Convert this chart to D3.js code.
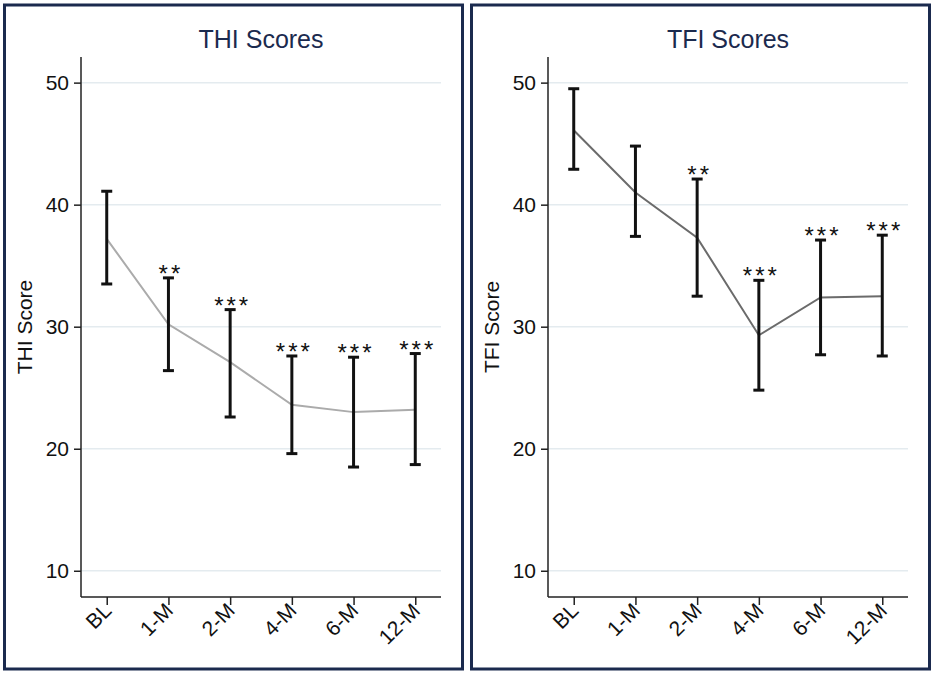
<!DOCTYPE html>
<html>
<head>
<meta charset="utf-8">
<script src="https://cdn.jsdelivr.net/npm/d3@7"></script>
<style>
  body { margin: 0; background: #fff; }
  svg { display: block; font-family: Arial, "Liberation Sans", sans-serif; }
</style>
</head>
<body>
<div id="chart"></div>
<script>
const categories = ["BL", "1-M", "2-M", "4-M", "6-M", "12-M"];
const yTicks = [10, 20, 30, 40, 50];

const thiMean = [37.2, 30.2, 27.1, 23.6, 23.0, 23.2];
const thiLow  = [33.5, 26.4, 22.6, 19.6, 18.5, 18.7];
const thiHigh = [41.1, 34.0, 31.4, 27.6, 27.5, 27.8];
const thiSig  = ["", "**", "***", "***", "***", "***"];

const tfiMean = [46.1, 41.0, 37.3, 29.3, 32.4, 32.5];
const tfiLow  = [42.9, 37.4, 32.5, 24.8, 27.7, 27.6];
const tfiHigh = [49.5, 44.8, 42.1, 33.8, 37.1, 37.5];
const tfiSig  = ["", "", "**", "***", "***", "***"];

const W = 935, H = 675;
const svg = d3.select("#chart").append("svg")
    .attr("width", W)
    .attr("height", H);

function drawPanel(x0, title, yLabel, mean, low, high, sig, lineColor) {
    const g = svg.append("g").attr("transform", `translate(${x0},0)`);

    // panel frame
    g.append("rect")
        .attr("x", 1.5).attr("y", 5)
        .attr("width", 458).attr("height", 664)
        .attr("fill", "none")
        .attr("stroke", "#1b2a4e")
        .attr("stroke-width", 3);

    const left = 78, right = 438, top = 57, bottom = 597;

    const x = d3.scalePoint()
        .domain(categories)
        .range([left, right])
        .padding(0.417);

    const y = d3.scaleLinear()
        .domain([7.85, 52.1])
        .range([bottom, top]);

    // gridlines
    g.selectAll(".grid")
        .data(yTicks)
        .enter().append("line")
        .attr("x1", left).attr("x2", right)
        .attr("y1", d => y(d)).attr("y2", d => y(d))
        .attr("stroke", "#e4ebef")
        .attr("stroke-width", 1.5);

    // y axis
    const yAxis = g.append("g")
        .attr("transform", `translate(${left},0)`)
        .call(d3.axisLeft(y).tickValues(yTicks).tickSize(7).tickPadding(5));
    yAxis.select(".domain").remove();
    yAxis.append("line")
        .attr("y1", top).attr("y2", bottom)
        .attr("stroke", "#222").attr("stroke-width", 1.5);
    yAxis.selectAll(".tick line").attr("stroke", "#222").attr("stroke-width", 1.5);
    yAxis.selectAll(".tick text")
        .attr("font-size", 21)
        .attr("fill", "#111")
        .attr("font-family", "Arial, 'Liberation Sans', sans-serif");

    // x axis
    const xAxis = g.append("g")
        .attr("transform", `translate(0,${bottom})`)
        .call(d3.axisBottom(x).tickSize(8).tickFormat(""));
    xAxis.select(".domain").remove();
    xAxis.append("line")
        .attr("x1", left).attr("x2", right)
        .attr("stroke", "#222").attr("stroke-width", 1.5);
    xAxis.selectAll(".tick line").attr("stroke", "#222").attr("stroke-width", 1.5);

    g.selectAll(".xlab")
        .data(categories)
        .enter().append("text")
        .attr("transform", d => `translate(${x(d) + 6},${bottom + 15}) rotate(-45)`)
        .attr("text-anchor", "end")
        .attr("font-size", 21)
        .attr("fill", "#111")
        .text(d => d);

    // title
    g.append("text")
        .attr("x", (left + right) / 2)
        .attr("y", 48)
        .attr("text-anchor", "middle")
        .attr("font-size", 25)
        .attr("fill", "#1b2a4e")
        .text(title);

    // y label
    g.append("text")
        .attr("transform", `translate(${left - 49},${(top + bottom) / 2}) rotate(-90)`)
        .attr("text-anchor", "middle")
        .attr("font-size", 21)
        .attr("fill", "#111")
        .text(yLabel);

    // mean line
    const line = d3.line()
        .x((d, i) => x(categories[i]))
        .y(d => y(d));
    g.append("path")
        .datum(mean)
        .attr("d", line)
        .attr("fill", "none")
        .attr("stroke", lineColor)
        .attr("stroke-width", 2);

    // error bars
    const bars = g.selectAll(".err")
        .data(categories)
        .enter().append("g");
    bars.append("line")
        .attr("x1", d => x(d)).attr("x2", d => x(d))
        .attr("y1", (d, i) => y(low[i])).attr("y2", (d, i) => y(high[i]))
        .attr("stroke", "#111").attr("stroke-width", 3);
    bars.append("line")
        .attr("x1", d => x(d) - 5.5).attr("x2", d => x(d) + 5.5)
        .attr("y1", (d, i) => y(low[i])).attr("y2", (d, i) => y(low[i]))
        .attr("stroke", "#111").attr("stroke-width", 3);
    bars.append("line")
        .attr("x1", d => x(d) - 5.5).attr("x2", d => x(d) + 5.5)
        .attr("y1", (d, i) => y(high[i])).attr("y2", (d, i) => y(high[i]))
        .attr("stroke", "#111").attr("stroke-width", 3);

    // significance stars
    bars.append("text")
        .attr("x", d => x(d) + 2.5)
        .attr("y", (d, i) => y(high[i]) + 4)
        .attr("text-anchor", "middle")
        .attr("font-size", 24)
        .attr("letter-spacing", 3)
        .attr("fill", "#111")
        .text((d, i) => sig[i]);
}

drawPanel(3, "THI Scores", "THI Score", thiMean, thiLow, thiHigh, thiSig, "#ababab");
drawPanel(470, "TFI Scores", "TFI Score", tfiMean, tfiLow, tfiHigh, tfiSig, "#6b6b6b");
</script>
</body>
</html>
